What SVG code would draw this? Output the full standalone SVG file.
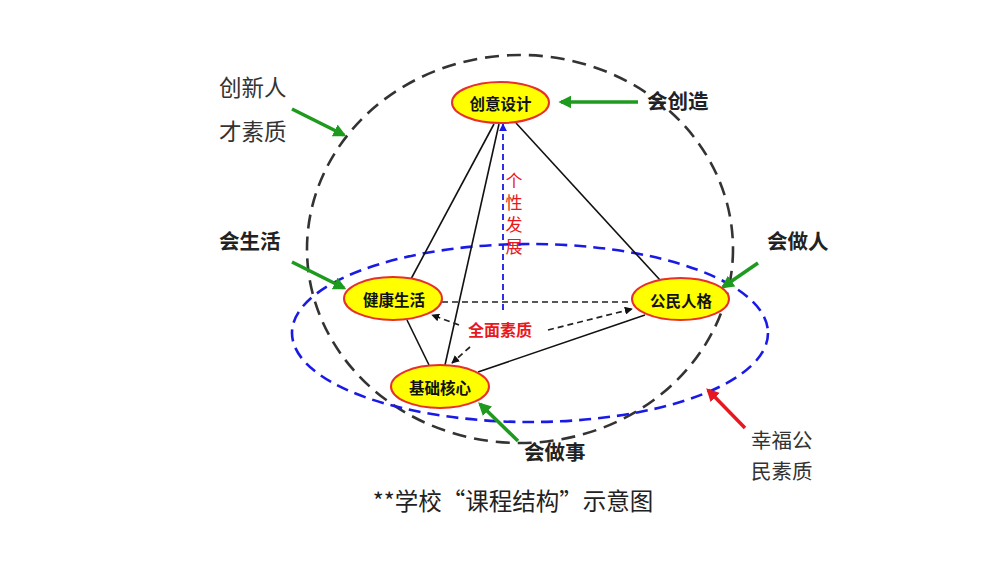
<svg xmlns="http://www.w3.org/2000/svg" width="1000" height="562" viewBox="0 0 1000 562">
<defs>
<style>
.cjk{font-family:"Noto Sans CJK SC","Noto Sans",sans-serif;}
.node ellipse{fill:#FFFF00;stroke:#E8302A;stroke-width:2;}
.node text{font-size:15.5px;font-weight:bold;fill:#111;text-anchor:middle;dominant-baseline:central;}
.lbl{font-size:22.5px;fill:#333;}
.blbl{font-size:20.5px;font-weight:bold;fill:#222;}
.solid{stroke:#111;stroke-width:1.6;fill:none;}
.dash{stroke:#222;stroke-width:1.7;fill:none;stroke-dasharray:6 4;}
.garrow{stroke:#1E9A1E;stroke-width:3.5;fill:none;}
.rarrow{stroke:#E81820;stroke-width:3.5;fill:none;}
</style>
<marker id="ah" viewBox="0 0 10 10" refX="9" refY="5" markerWidth="8" markerHeight="8" markerUnits="userSpaceOnUse" orient="auto"><path d="M0,0 L10,5 L0,10 z" fill="#111"/></marker>
<marker id="ab" viewBox="0 0 10 10" refX="9" refY="5" markerWidth="8" markerHeight="8" markerUnits="userSpaceOnUse" orient="auto"><path d="M0,0 L10,5 L0,10 z" fill="#1A1AE6"/></marker>
<marker id="ag" viewBox="0 0 10 10" refX="8" refY="5" markerWidth="13" markerHeight="13" markerUnits="userSpaceOnUse" orient="auto"><path d="M0,0 L10,5 L0,10 z" fill="#1E9A1E"/></marker>
<marker id="ar" viewBox="0 0 10 10" refX="8" refY="5" markerWidth="13" markerHeight="13" markerUnits="userSpaceOnUse" orient="auto"><path d="M0,0 L10,5 L0,10 z" fill="#E81820"/></marker>
</defs>
<rect width="1000" height="562" fill="#fff"/>

<g id="spheres">
<ellipse cx="520" cy="249" rx="213" ry="194" fill="none" stroke="#333" stroke-width="2.6" stroke-dasharray="14 8"/>
<ellipse cx="530" cy="333" rx="238" ry="89" fill="none" stroke="#1A1AE6" stroke-width="2.6" stroke-dasharray="12 7"/>
</g>

<g id="connectors">
<line class="solid" x1="494" y1="124" x2="411" y2="279"/>
<line class="solid" x1="499" y1="124" x2="445" y2="365"/>
<line class="solid" x1="516" y1="123" x2="660" y2="280"/>
<line class="solid" x1="407" y1="320" x2="429" y2="365"/>
<line class="solid" x1="478" y1="372" x2="645" y2="315"/>
<line class="dash" x1="442" y1="302" x2="632" y2="302"/>
<line class="dash" x1="459" y1="325" x2="432" y2="315" marker-end="url(#ah)"/>
<line class="dash" x1="470" y1="347" x2="452" y2="363" marker-end="url(#ah)"/>
<line class="dash" x1="548" y1="330" x2="632" y2="309" marker-end="url(#ah)"/>
<line x1="503" y1="310" x2="503" y2="124" stroke="#1A1AE6" stroke-width="1.8" stroke-dasharray="6 4" marker-end="url(#ab)"/>
<line class="garrow" x1="638" y1="102" x2="561" y2="102" marker-end="url(#ag)"/>
<line class="garrow" x1="292" y1="109" x2="344" y2="135" marker-end="url(#ag)"/>
<line class="garrow" x1="292" y1="262" x2="344" y2="288" marker-end="url(#ag)"/>
<line class="garrow" x1="758" y1="263" x2="723" y2="287" marker-end="url(#ag)"/>
<line class="garrow" x1="518" y1="441" x2="480" y2="404" marker-end="url(#ag)"/>
<line class="rarrow" x1="745" y1="428" x2="708" y2="390" marker-end="url(#ar)"/>
</g>

<g id="node-chuangyi" class="node cjk"><ellipse cx="500.5" cy="102.5" rx="48.5" ry="20.5"/><text x="500.5" y="103">创意设计</text></g>
<g id="node-jiankang" class="node cjk"><ellipse cx="393" cy="298.5" rx="49" ry="21.5"/><text x="394" y="299">健康生活</text></g>
<g id="node-gongmin" class="node cjk"><ellipse cx="680.5" cy="299" rx="48.5" ry="21"/><text x="681" y="299.5">公民人格</text></g>
<g id="node-jichu" class="node cjk"><ellipse cx="440" cy="386.5" rx="49" ry="21.5"/><text x="440" y="387">基础核心</text></g>

<g id="labels" class="cjk">
<text class="lbl" x="219" y="96">创新人</text>
<text class="lbl" x="219" y="140">才素质</text>
<text class="blbl" x="647" y="109">会创造</text>
<text class="blbl" x="219" y="249">会生活</text>
<text class="blbl" x="767" y="249">会做人</text>
<text class="blbl" x="524" y="460">会做事</text>
<text x="751" y="448" font-size="20.5" fill="#333">幸福公</text>
<text x="751" y="478.5" font-size="20.5" fill="#333">民素质</text>
<text x="514" y="172" fill="#E81820" font-size="17" writing-mode="tb" letter-spacing="5" text-anchor="start">个性发展</text>
<text x="500" y="336" fill="#E81820" font-size="16" font-weight="bold" text-anchor="middle">全面素质</text>
<text x="513" y="510" font-size="23.5" fill="#222" text-anchor="middle">**学校“课程结构”示意图</text>
</g>
</svg>
